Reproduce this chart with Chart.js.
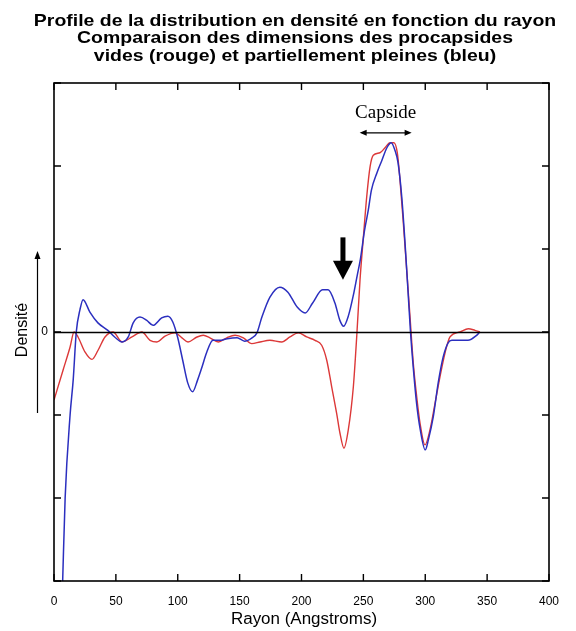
<!DOCTYPE html>
<html>
<head>
<meta charset="utf-8">
<script src="https://cdn.jsdelivr.net/npm/chart.js"></script>
<style>
  body { margin: 0; background: #fff; }
  #wrap { width: 576px; height: 631px; }
</style>
</head>
<body>
<div id="wrap"><canvas id="profil" width="576" height="631"></canvas></div>
<script>
// rayon (Angstroms) / densite
var blueR = [7, 9, 13, 15.5, 18, 21, 23.5, 29, 35.5, 43.5, 49, 55, 60, 64, 69.5, 75, 80, 87, 92, 96,
  100, 104, 108, 112, 116, 119, 123.5, 128.5, 134, 140, 148, 154, 160, 164, 168, 174.5, 182.5, 189, 196.5, 203,
  209, 217, 221.5, 227, 231, 234, 238, 242, 245, 247.5, 251, 254, 256.5, 261, 265, 269, 272.5, 275.5, 278, 281,
  283.5, 286, 288, 290.5, 293, 296, 300, 302.5, 306.5, 310.5, 314.5, 318.5, 321.5, 334.5, 341.5, 344];
var blueD = [-3.0, -2.0, -1.0, -0.58, 0, 0.27, 0.39, 0.24, 0.11, 0.02, -0.06, -0.12, -0.06, 0.11, 0.18, 0.14, 0.08, 0.17, 0.19, 0.12,
  -0.07, -0.34, -0.61, -0.72, -0.58, -0.45, -0.24, -0.1, -0.1, -0.08, -0.07, -0.11, -0.07, -0.01, 0.18, 0.42, 0.54, 0.48, 0.3, 0.23,
  0.35, 0.51, 0.51, 0.35, 0.14, 0.07, 0.2, 0.45, 0.68, 0.87, 1.23, 1.47, 1.71, 1.92, 2.07, 2.22, 2.28, 2.19, 2.04, 1.63,
  1.11, 0.51, 0.02, -0.46, -0.86, -1.18, -1.42, -1.30, -1.02, -0.61, -0.30, -0.13, -0.1, -0.1, -0.04, 0];

var redR = [0, 7.3, 13, 16.2, 19.4, 25, 30.7, 35.6, 41.2, 47.7, 55, 63, 71, 77.6, 83.2, 89.7, 97.8, 103.4, 108.3, 115.6,
  120.6, 126, 132.8, 139.6, 146.3, 153, 159.8, 166.5, 174.5, 184, 190.7, 197.4, 204.2, 210.9, 216.3, 220.4, 224.4, 228.4, 231.1, 234.3,
  237.8, 241.9, 244.6, 247.3, 250, 252.7, 255.4, 258, 263.4, 267.5, 271.5, 274.7, 277.4, 279.6, 282.3, 285, 287.7, 290.3, 293.1, 295.8,
  299.8, 303.8, 307.9, 311.9, 316, 320, 328, 334.8, 340.2, 344.2];
var redD = [-0.82, -0.46, -0.18, 0, -0.06, -0.24, -0.33, -0.22, -0.06, 0, -0.12, -0.06, 0, -0.1, -0.12, -0.05, -0.01, -0.07, -0.12, -0.06,
  -0.04, -0.07, -0.12, -0.07, -0.04, -0.07, -0.14, -0.12, -0.1, -0.12, -0.06, -0.01, -0.06, -0.1, -0.16, -0.34, -0.66, -0.98, -1.22, -1.40,
  -1.18, -0.66, -0.06, 0.63, 1.14, 1.63, 1.99, 2.13, 2.16, 2.22, 2.28, 2.28, 2.16, 1.83, 1.31, 0.75, 0.18, -0.37, -0.78, -1.10,
  -1.36, -1.18, -0.86, -0.54, -0.25, -0.06, 0, 0.04, 0.02, 0];

var xTicks = [0, 50, 100, 150, 200, 250, 300, 350, 400];
var yTicks = [-3, -2, -1, 0, 1, 2, 3];

var titleLines = [
  "Profile de la distribution en densité en fonction du rayon",
  "Comparaison des dimensions des procapsides",
  "vides (rouge) et partiellement pleines (bleu)"
];

var SANS = "'Liberation Sans', Arial, sans-serif";

function toPoints(xs, ys) {
  var pts = [];
  for (var i = 0; i < xs.length; i++) {
    pts.push({x: xs[i], y: ys[i]});
  }
  return pts;
}

// texte un peu elargi, comme sur l'image d'origine
function wideText(ctx, txt, x, y, sx) {
  ctx.save();
  ctx.translate(x, y);
  ctx.scale(sx, 1);
  ctx.fillText(txt, 0, 0);
  ctx.restore();
}

// cadre, graduations internes, ligne du zero, titres et fleches
var decor = {
  id: "decor",
  afterDatasetsDraw: function(chart) {
    var ctx = chart.ctx;
    var a = chart.chartArea;
    var xs = chart.scales.x;
    var ys = chart.scales.y;
    ctx.save();
    ctx.strokeStyle = "#000";

    ctx.lineWidth = 1.6;
    var y0 = Math.round(ys.getPixelForValue(0)) + 0.5;
    ctx.beginPath();
    ctx.moveTo(a.left, y0);
    ctx.lineTo(a.right, y0);
    ctx.stroke();

    ctx.lineWidth = 1.6;
    ctx.strokeRect(a.left, a.top, a.right - a.left, a.bottom - a.top);

    ctx.lineWidth = 1.4;
    ctx.beginPath();
    xTicks.forEach(function(t) {
      var px = xs.getPixelForValue(t);
      ctx.moveTo(px, a.bottom);
      ctx.lineTo(px, a.bottom - 7);
      ctx.moveTo(px, a.top);
      ctx.lineTo(px, a.top + 7);
    });
    yTicks.forEach(function(t) {
      var py = ys.getPixelForValue(t);
      ctx.moveTo(a.left, py);
      ctx.lineTo(a.left + 7, py);
      ctx.moveTo(a.right, py);
      ctx.lineTo(a.right - 7, py);
    });
    ctx.stroke();
    ctx.restore();
  },
  afterDraw: function(chart) {
    var ctx = chart.ctx;
    var xs = chart.scales.x;
    var ys = chart.scales.y;
    ctx.save();
    ctx.fillStyle = "#000";
    ctx.strokeStyle = "#000";

    ctx.font = "bold 17px " + SANS;
    ctx.textAlign = "center";
    ctx.textBaseline = "middle";
    titleLines.forEach(function(l, i) {
      wideText(ctx, l, 295, 21 + i * 17.5, 1.145);
    });

    ctx.font = "16px " + SANS;
    wideText(ctx, "Rayon (Angstroms)", 304, 620, 1.06);

    ctx.save();
    ctx.translate(23, 330);
    ctx.rotate(-Math.PI / 2);
    ctx.font = "16px " + SANS;
    ctx.fillText("Densité", 0, 0);
    ctx.restore();

    // fleche verticale a gauche de "Densite"
    ctx.lineWidth = 1.2;
    ctx.beginPath();
    ctx.moveTo(37.5, 413);
    ctx.lineTo(37.5, 256);
    ctx.stroke();
    ctx.beginPath();
    ctx.moveTo(37.5, 251);
    ctx.lineTo(34.5, 259);
    ctx.lineTo(40.5, 259);
    ctx.closePath();
    ctx.fill();

    // "Capside" et fleche double
    var c1 = xs.getPixelForValue(247);
    var c2 = xs.getPixelForValue(289);
    var cy = ys.getPixelForValue(2.4);
    ctx.font = "19px 'Liberation Serif', 'Times New Roman', serif";
    ctx.fillText("Capside", xs.getPixelForValue(268), ys.getPixelForValue(2.64));
    ctx.lineWidth = 1.2;
    ctx.beginPath();
    ctx.moveTo(c1 + 3, cy);
    ctx.lineTo(c2 - 3, cy);
    ctx.stroke();
    ctx.beginPath();
    ctx.moveTo(c1, cy);
    ctx.lineTo(c1 + 7, cy - 3);
    ctx.lineTo(c1 + 7, cy + 3);
    ctx.closePath();
    ctx.moveTo(c2, cy);
    ctx.lineTo(c2 - 7, cy - 3);
    ctx.lineTo(c2 - 7, cy + 3);
    ctx.closePath();
    ctx.fill();

    // fleche noire vers le bas
    var ax = xs.getPixelForValue(233.5);
    var aTop = ys.getPixelForValue(1.14);
    var aTip = ys.getPixelForValue(0.63);
    ctx.fillRect(ax - 2.5, aTop, 5, (aTip - aTop) - 16);
    ctx.beginPath();
    ctx.moveTo(ax - 10, aTip - 19);
    ctx.lineTo(ax + 10, aTip - 19);
    ctx.lineTo(ax, aTip);
    ctx.closePath();
    ctx.fill();

    ctx.restore();
  }
};

var ctx = document.getElementById("profil").getContext("2d");

var profilChart = new Chart(ctx, {
  type: "line",
  data: {
    datasets: [{
      label: "pleines (bleu)",
      data: toPoints(blueR, blueD),
      borderColor: "#2b2fbf",
      borderWidth: 1.5,
      pointRadius: 0,
      cubicInterpolationMode: "monotone",
      fill: false
    }, {
      label: "vides (rouge)",
      data: toPoints(redR, redD),
      borderColor: "#dc3838",
      borderWidth: 1.4,
      pointRadius: 0,
      cubicInterpolationMode: "monotone",
      fill: false
    }]
  },
  options: {
    responsive: false,
    animation: false,
    layout: {
      padding: {left: 0, right: 27, top: 83, bottom: 0}
    },
    plugins: {
      legend: {display: false},
      tooltip: {enabled: false},
      title: {display: false}
    },
    scales: {
      x: {
        type: "linear",
        min: 0,
        max: 400,
        afterBuildTicks: function(scale) {
          scale.ticks = xTicks.map(function(v) { return {value: v}; });
        },
        afterFit: function(scale) { scale.height = 50; },
        grid: {display: false, drawTicks: false},
        border: {display: false},
        ticks: {
          color: "#000",
          padding: 13,
          maxRotation: 0,
          autoSkip: false,
          font: {family: SANS, size: 12}
        }
      },
      y: {
        type: "linear",
        min: -3,
        max: 3,
        afterBuildTicks: function(scale) {
          scale.ticks = yTicks.map(function(v) { return {value: v}; });
        },
        afterFit: function(scale) { scale.width = 54; },
        grid: {display: false, drawTicks: false},
        border: {display: false},
        ticks: {
          color: "#000",
          padding: 6,
          autoSkip: false,
          font: {family: SANS, size: 12},
          callback: function(v) { return v === 0 ? "0" : ""; }
        }
      }
    }
  },
  plugins: [decor]
});
</script>
</body>
</html>
